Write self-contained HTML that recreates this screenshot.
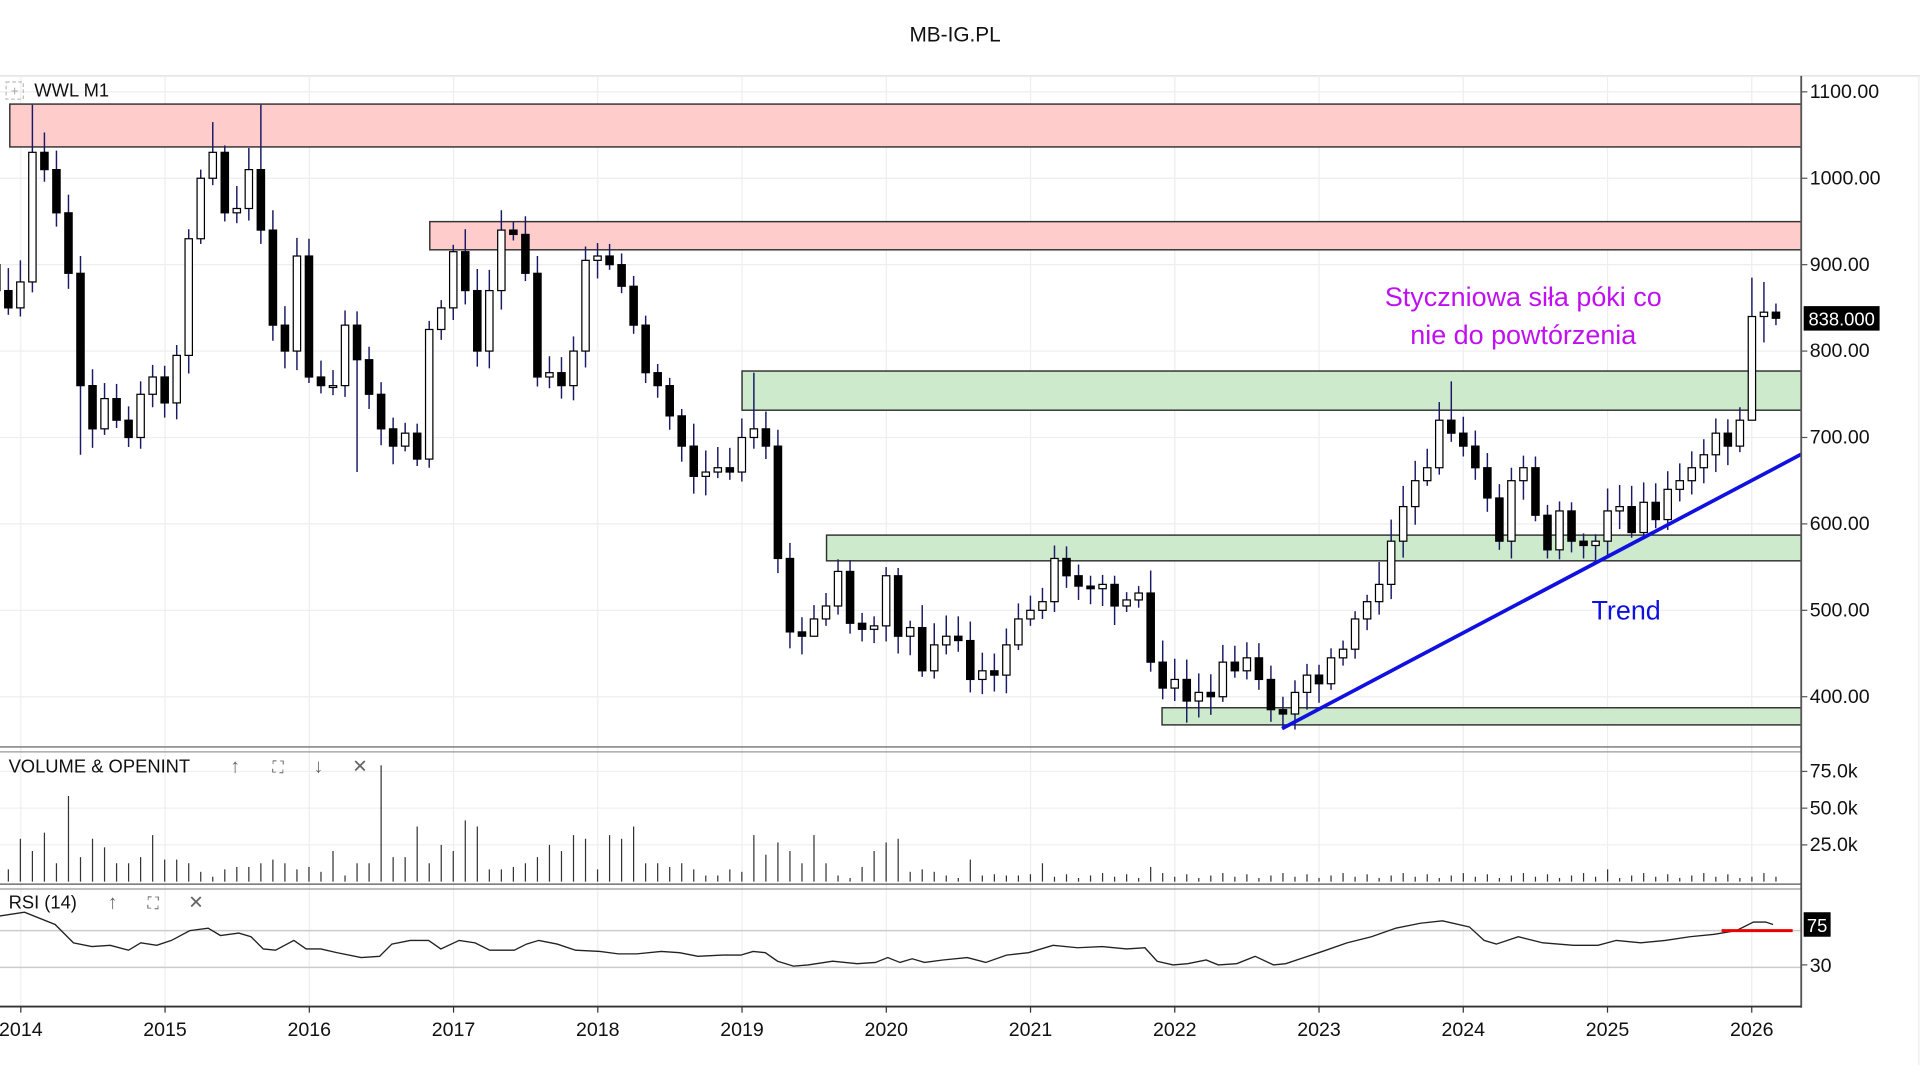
<!DOCTYPE html>
<html><head><meta charset="utf-8"><style>
html,body{margin:0;padding:0;background:#fff;width:1920px;height:1080px;overflow:hidden}
svg{display:block}
text{font-family:"Liberation Sans",sans-serif}
</style></head><body>
<svg id="s" width="1920" height="1080" viewBox="0 0 1568 882" preserveAspectRatio="none" xmlns="http://www.w3.org/2000/svg">
<rect width="1568" height="882" fill="#fff"/>
<text x="780" y="34" font-size="17" text-anchor="middle" fill="#111">MB-IG.PL</text>
<line x1="0" y1="62" x2="1568" y2="62" stroke="#ddd" stroke-width="1"/>
<g id="grid"></g>
<rect x="8" y="85" width="1463" height="35" fill="#ffcccc" stroke="#333" stroke-width="1.2"/>
<rect x="351" y="181" width="1120" height="23" fill="#ffcccc" stroke="#333" stroke-width="1.2"/>
<rect x="606" y="303" width="865" height="32" fill="#cdeacd" stroke="#333" stroke-width="1.2"/>
<rect x="675" y="437" width="796" height="21" fill="#cdeacd" stroke="#333" stroke-width="1.2"/>
<rect x="949" y="578" width="522" height="14" fill="#cdeacd" stroke="#333" stroke-width="1.2"/>
<g id="candles"></g>
<line x1="1047" y1="595" x2="1471" y2="371" stroke="#1010e0" stroke-width="3"/>
<text x="1244" y="250" font-size="22" text-anchor="middle" fill="#c010f0">Styczniowa siła póki co</text>
<text x="1244" y="281" font-size="22" text-anchor="middle" fill="#c010f0">nie do powtórzenia</text>
<text x="1328" y="506" font-size="22" text-anchor="middle" fill="#1010e0">Trend</text>
<rect x="5" y="67" width="14" height="14" fill="none" stroke="#bbb" stroke-width="1" stroke-dasharray="3,2"/>
<text x="12" y="78" font-size="11" text-anchor="middle" fill="#aaa">+</text>
<text x="28" y="79" font-size="15" fill="#111">WWL  M1</text>
<line x1="0" y1="610" x2="1471" y2="610" stroke="#555" stroke-width="1"/>
<line x1="0" y1="614" x2="1471" y2="614" stroke="#999" stroke-width="1"/>
<line x1="0" y1="722" x2="1471" y2="722" stroke="#555" stroke-width="1"/>
<line x1="0" y1="726" x2="1471" y2="726" stroke="#999" stroke-width="1"/>
<g id="vol"></g>
<text x="7" y="631" font-size="15" fill="#111">VOLUME &amp; OPENINT</text>
<text x="192" y="631" font-size="16" font-weight="bold" text-anchor="middle" fill="#666">↑</text>
<text x="227" y="631" font-size="13" text-anchor="middle" fill="#666">⛶</text>
<text x="260" y="631" font-size="16" font-weight="bold" text-anchor="middle" fill="#666">↓</text>
<text x="294" y="631" font-size="15" text-anchor="middle" fill="#666">✕</text>
<line x1="0" y1="760" x2="1471" y2="760" stroke="#ccc" stroke-width="1.2"/>
<line x1="0" y1="790" x2="1471" y2="790" stroke="#ccc" stroke-width="1.2"/>
<polyline id="rsi" fill="none" stroke="#222" stroke-width="1.1"/>
<line x1="1406" y1="760" x2="1464" y2="760" stroke="#e00" stroke-width="2.5"/>
<text x="7" y="742" font-size="15" fill="#111">RSI (14)</text>
<text x="92" y="742" font-size="16" font-weight="bold" text-anchor="middle" fill="#666">↑</text>
<text x="125" y="742" font-size="13" text-anchor="middle" fill="#666">⛶</text>
<text x="160" y="742" font-size="15" text-anchor="middle" fill="#666">✕</text>
<line x1="1471" y1="62" x2="1471" y2="823" stroke="#555" stroke-width="1.5"/>
<line x1="0" y1="822" x2="1471" y2="822" stroke="#333" stroke-width="1.5"/>
<g id="axis" font-size="16" fill="#111"></g>
<rect x="1473" y="250" width="62" height="20" fill="#000"/>
<text x="1504" y="266" font-size="15" text-anchor="middle" fill="#fff">838.000</text>
<rect x="1473" y="745" width="22" height="20" fill="#000"/>
<text x="1484" y="761" font-size="15" text-anchor="middle" fill="#fff">75</text>
<line x1="1567" y1="62" x2="1567" y2="870" stroke="#eee"/>
</svg>
<script>
const NS="http://www.w3.org/2000/svg";
function el(p,t,a,txt){const e=document.createElementNS(NS,t);for(const k in a)e.setAttribute(k,a[k]);if(txt!==undefined)e.textContent=txt;p.appendChild(e);return e;}
const Y=p=>75+(1100-p)*0.7057;
const g=document.getElementById('grid'),ax=document.getElementById('axis');
const yrs=[2014,2015,2016,2017,2018,2019,2020,2021,2022,2023,2024,2025,2026];
yrs.forEach((y,i)=>{const x=17+i*117.8;
 el(g,'line',{x1:x,y1:62,x2:x,y2:822,stroke:'#eee','stroke-width':1});
 el(ax,'line',{x1:x,y1:822,x2:x,y2:827,stroke:'#333'});
 el(ax,'text',{x:x,y:846,'text-anchor':'middle'},String(y));});
for(let p=400;p<=1100;p+=100){const y=Y(p);
 el(g,'line',{x1:0,y1:y,x2:1471,y2:y,stroke:'#eee','stroke-width':1});
 el(ax,'line',{x1:1471,y1:y,x2:1476,y2:y,stroke:'#555'});
 el(ax,'text',{x:1478,y:y+5},p.toFixed(2));}
[[630,'75.0k'],[660,'50.0k'],[690,'25.0k']].forEach(([y,t])=>{
 el(g,'line',{x1:0,y1:y,x2:1471,y2:y,stroke:'#f0f0f0'});
 el(ax,'line',{x1:1471,y1:y,x2:1476,y2:y,stroke:'#555'});
 el(ax,'text',{x:1478,y:y+5},t);});
el(ax,'line',{x1:1471,y1:788,x2:1476,y2:788,stroke:'#555'});
el(ax,'text',{x:1478,y:794},'30');
const C=[870,850,
880,1030,1010,960,890,760,710,745,720,700,750,770,
740,795,930,1000,1030,960,965,1010,940,830,800,910,
770,760,760,830,790,750,710,690,705,675,825,850,
915,870,800,870,940,935,890,770,775,760,800,905,
910,900,875,830,775,760,725,690,655,660,665,660,
700,710,690,560,475,470,490,505,545,485,478,482,
540,470,480,430,460,470,465,420,430,425,460,490,
500,510,560,540,528,525,530,505,512,520,440,410,
420,395,405,400,440,430,445,420,385,380,405,425,
415,445,455,490,510,530,580,620,650,665,720,705,
690,665,630,580,650,665,610,570,615,580,575,580,
615,620,590,625,605,640,650,665,680,705,690,720,
840,845,838];
const HI={3:1085,18:1065,22:1085,43:950,50:925,63:775,121:765,146:885,147:880,148:855};
const LO={7:680,30:660,68:475,99:370,125:570,129:560,146:720,147:810,148:830};
const cg=document.getElementById('candles');
let prev=900;
C.forEach((c,i)=>{const x=-3+i*9.82;const o=prev;prev=c;
 const w=8+((i*37)%19);const w2=6+((i*53)%17);
 let h=Math.max(o,c)+w,l=Math.min(o,c)-w2;if(HI[i])h=HI[i];if(LO[i])l=LO[i];
 el(cg,'line',{x1:x,y1:Y(h),x2:x,y2:Y(l),stroke:'#1a1a66','stroke-width':1.2});
 const top=Y(Math.max(o,c)),bh=Math.max(1.5,Math.abs(Y(o)-Y(c)));
 el(cg,'rect',{x:x-3,y:top,width:6,height:bh,fill:c>=o?'#fff':'#000',stroke:'#000','stroke-width':1});});
const V=[15,10,35,25,40,15,70,20,35,28,15,15,20,38,18,18,15,8,4,10,12,12,15,18,15,10,12,8,25,5,15,15,95,20,20,45,15,30,25,50,45,10,10,12,15,20,30,25,38,35,10,38,35,45,15,15,12,15,10,5,5,10,8,38,22,32,25,15,38,15,5,3,12,25,32,35,8,10,8,5,3,18,5,6,5,5,6,15];
const vg=document.getElementById('vol');
for(let i=0;i<C.length;i++){const x=-3+i*9.82;let h=i<V.length?V[i]:(3+((i*7)%5));if(i==96)h=12;if(i==134)h=10;if(i==146)h=4;
 el(vg,'line',{x1:x,y1:720,x2:x,y2:720-h,stroke:'#333','stroke-width':1});}
const R=[[0,748],[20,745],[45,755],[60,770],[75,773],[90,772],[105,776],[115,770],[128,772],[140,768],[155,760],[170,758],[180,764],[195,762],[205,765],[215,775],[225,776],[240,768],[250,775],[262,775],[275,778],[295,782],[310,781],[320,771],[335,768],[350,768],[360,775],[375,768],[388,770],[400,776],[410,776],[420,776],[430,771],[440,768],[455,771],[470,776],[490,777],[505,779],[520,779],[540,777],[555,778],[570,781],[590,780],[605,780],[615,777],[625,778],[635,785],[648,789],[660,788],[680,785],[700,787],[715,786],[725,782],[735,786],[745,783],[755,786],[770,784],[790,782],[805,786],[822,780],[840,778],[860,772],[880,774],[900,773],[920,775],[935,774],[945,785],[958,788],[970,787],[985,784],[995,788],[1010,787],[1025,781],[1040,788],[1050,787],[1062,783],[1080,777],[1100,770],[1120,765],[1140,758],[1160,754],[1178,752],[1200,757],[1212,768],[1222,771],[1240,765],[1260,770],[1285,772],[1305,772],[1320,768],[1340,770],[1360,768],[1380,765],[1400,763],[1418,760],[1432,753],[1442,753],[1448,755]];
document.getElementById('rsi').setAttribute('points',R.map(p=>p.join(',')).join(' '));
</script>
</body></html>
